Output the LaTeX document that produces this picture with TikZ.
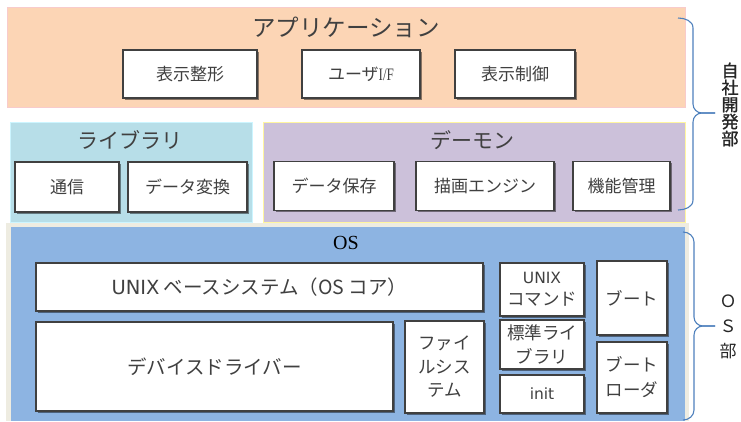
\documentclass[tikz,border=0pt]{standalone}
\usepackage{fontspec}
\setmainfont{Noto Sans CJK JP}
\newfontfamily\serifl{Liberation Serif}
\newfontfamily\latn{DejaVu Sans}
\usetikzlibrary{shadows}
\definecolor{peach}{HTML}{FCD5B5}
\definecolor{peachline}{HTML}{F8CBCB}
\definecolor{libblue}{HTML}{B7DEE8}
\definecolor{libline}{HTML}{CCF5FF}
\definecolor{daepurple}{HTML}{CCC1DA}
\definecolor{daeline}{HTML}{FFF6A0}
\definecolor{osblue}{HTML}{8DB4E2}
\definecolor{osframe}{HTML}{EEECE1}
\definecolor{boxline}{HTML}{404040}
\definecolor{txt}{HTML}{404040}
\definecolor{bracec}{HTML}{4F81BD}
\begin{document}
\begin{tikzpicture}[x=1pt,y=-1pt,
  box/.style={draw=boxline, line width=1.1pt, fill=white, text=txt, inner sep=0pt, align=center,
    drop shadow={shadow xshift=1.6pt, shadow yshift=-1.6pt, fill=black, opacity=0.45}},
  sbox/.style={box, font=\fontsize{17}{19}\selectfont},
  obox/.style={box, font=\fontsize{19.5}{22}\selectfont},
  tbox/.style={box, font=\fontsize{17.5}{23.5}\selectfont},
  ptitle/.style={text=txt, inner sep=0pt},
  bracepath/.style={draw=bracec, line width=1.1pt},
  side/.style={text=black!85, inner sep=0pt, align=center}]
\useasboundingbox (0,0) rectangle (741,421);
\fill[white] (0,0) rectangle (741,421);
% panels
\draw[fill=peach, draw=peachline, line width=0.8pt] (7,7) rectangle (685,107);
\draw[fill=libblue, draw=libline, line width=0.8pt] (10,122) rectangle (252,222);
\draw[fill=daepurple, draw=daeline, line width=0.8pt] (263,122) rectangle (685,222);
\fill[osframe] (6,223) rectangle (689,421);
\fill[osblue] (11,227) rectangle (685,421);
% titles
\node[ptitle, font=\fontsize{23.5}{25}\selectfont] (tapp) at (346,27) {アプリケーション};
\node[ptitle, font=\fontsize{21}{23}\selectfont] (tlib) at (130,140) {ライブラリ};
\node[ptitle, font=\fontsize{21}{23}\selectfont] (tdae) at (472,140) {デーモン};
\node[inner sep=0pt, font=\serifl\fontsize{20}{22}\selectfont] (tos) at (346,243) {OS};
% application boxes
\node[sbox, minimum width=134pt, minimum height=48pt] (a1) at (190,74) {表示整形};
\node[sbox, minimum width=118pt, minimum height=48pt] (a2) at (361,74) {ユーザ{\serifl\fontsize{17.5}{19}\selectfont\addfontfeature{FakeStretch=0.75}I/F}};
\node[sbox, minimum width=120pt, minimum height=48pt] (a3) at (515,74) {表示制御};
% library boxes
\node[sbox, minimum width=104pt, minimum height=50pt] (l1) at (67,187) {通信};
\node[sbox, minimum width=119pt, minimum height=50pt] (l2) at (187.5,187) {データ変換};
% daemon boxes
\node[sbox, minimum width=120pt, minimum height=49pt] (d1) at (334,186) {データ保存};
\node[sbox, minimum width=138pt, minimum height=49pt] (d2) at (485,186) {描画エンジン};
\node[sbox, minimum width=97pt, minimum height=49pt] (d3) at (621.5,186) {機能管理};
% OS boxes
\node[obox, minimum width=447pt, minimum height=48pt] (o1) at (259.5,287) {{\latn UNIX} ベースシステム（OS コア）};
\node[obox, minimum width=357pt, minimum height=89pt] (o2) at (214.5,366.5) {デバイスドライバー};
\node[tbox, minimum width=79pt, minimum height=92pt] (o3) at (444.5,367) {ファイ\\ルシス\\テム};
\node[tbox, font=\fontsize{17.5}{22}\selectfont, minimum width=84pt, minimum height=53pt] (o4) at (542,289.5) {{\latn\fontsize{15.5}{22}\selectfont UNIX}\\コマンド};
\node[tbox, font=\fontsize{17.5}{24}\selectfont, minimum width=84pt, minimum height=49pt] (o5) at (542,344.5) {標準ライ\\ブラリ};
\node[tbox, font=\latn\fontsize{15.5}{18}\selectfont, minimum width=84pt, minimum height=38pt] (o6) at (542,394) {init};
\node[tbox, minimum width=70pt, minimum height=74pt] (o7) at (632,298) {ブート};
\node[tbox, font=\fontsize{17.5}{25}\selectfont, minimum width=70pt, minimum height=71pt] (o8) at (632,377.5) {ブート\\ローダ};
% braces
\coordinate (b1t) at (678,18);
\coordinate (b1m) at (715,113);
\coordinate (b1b) at (678,210);
\draw[bracepath] (b1t) to[out=0,in=90] (693,28) -- (693,104) to[out=-90,in=180] (702,113) -- (b1m);
\draw[bracepath] (b1m) -- (702,113) to[out=180,in=90] (693,122) -- (693,200) to[out=-90,in=0] (b1b);
\coordinate (b2t) at (683,232);
\coordinate (b2m) at (715,326);
\coordinate (b2b) at (683,420);
\draw[bracepath] (b2t) to[out=0,in=90] (694,242) -- (694,317) to[out=-90,in=180] (703,326) -- (b2m);
\draw[bracepath] (b2m) -- (703,326) to[out=180,in=90] (694,335) -- (694,410) to[out=-90,in=0] (b2b);
% side labels
\node[side, font=\fontsize{17}{17}\selectfont\addfontfeature{FakeBold=1.2}] (s1) at (730,104.5) {自\\社\\開\\発\\部};
\node[side, font=\fontsize{17}{25}\selectfont] (s2) at (728,327) {Ｏ\\Ｓ\\部};
\end{tikzpicture}
\end{document}
